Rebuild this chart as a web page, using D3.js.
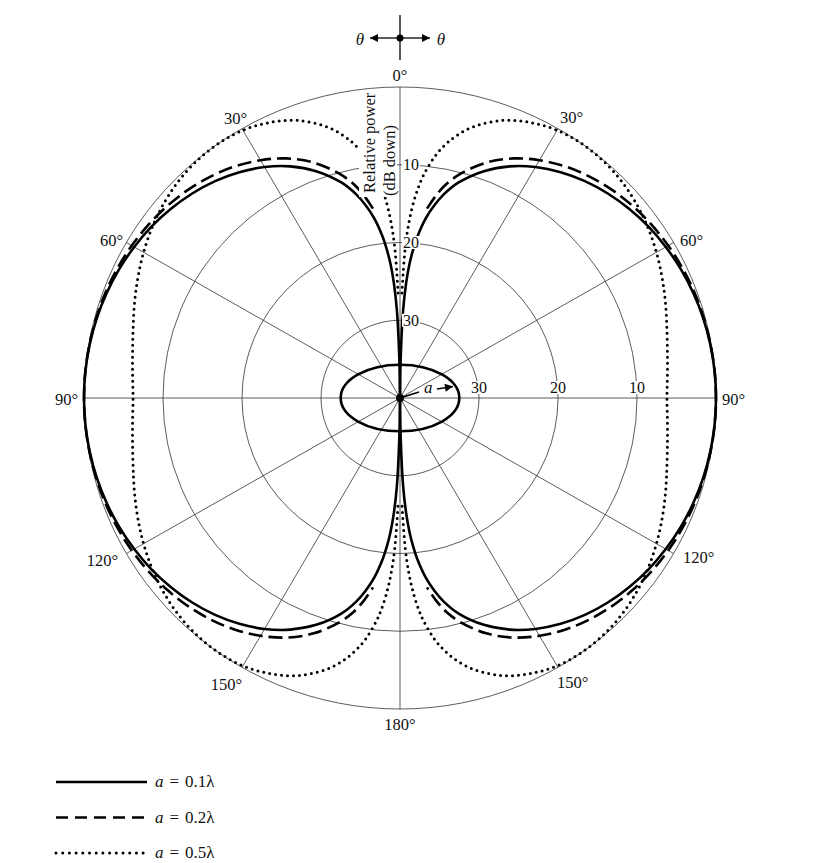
<!DOCTYPE html>
<html><head><meta charset="utf-8">
<script src="https://cdn.jsdelivr.net/npm/d3@7"></script>
<style>
html,body{margin:0;padding:0;background:#fff;}
svg text{font-family:"Liberation Serif","Times New Roman",serif;fill:#111;}
</style></head>
<body>
<svg id="chart" width="820" height="863"></svg>
<script>
// Angles (degrees from the loop axis) for one quadrant, mirrored to the others
const angles = [0,1,2,3,4,5,6,8,10,12,15,20,25,30,35,40,45,50,55,60,65,70,75,80,85,90];
// Relative power, dB down
const dbA01 = [40,34.7,28.7,25.2,22.7,20.8,19.2,16.7,14.8,13.2,11.3,8.95,7.13,5.7,4.55,3.59,2.8,2.15,1.59,1.15,0.78,0.49,0.27,0.12,0.03,0];
const dbA02 = [null,null,null,null,null,null,null,15.4,13.5,11.9,10.1,7.75,6.0,4.68,3.62,2.78,2.11,1.57,1.14,0.8,0.53,0.33,0.19,0.09,0.02,0];
const dbA05 = [null,26.5,20.5,17.0,14.55,12.65,11.1,8.7,6.9,5.5,3.85,2.0,0.9,0.23,0.01,0.1,0.44,1.0,1.71,2.52,3.39,4.24,5.03,5.63,6.02,6.21];
const ringLevels = [10,20,30];
const spokeAngles = [0,30,60,90,120,150,180,210,240,270,300,330];
const angleLabels = ["0°","30°","60°","90°","120°","150°","180°","150°","120°","90°","60°","30°"];
const legendLabels = ["0.1λ","0.2λ","0.5λ"];

const svg = d3.select("#chart");
const cx = 400, cy = 398, RY = 311, XS = 316/311;
const r = d3.scaleLinear().domain([40,0]).range([0,RY]);
const rad = d => d*Math.PI/180;
const pt = (a, db) => [cx + r(db)*Math.sin(rad(a))*XS, cy - r(db)*Math.cos(rad(a))];

const grid = svg.append("g").attr("fill","none").attr("stroke","#333").attr("stroke-width",0.8);
[0].concat(ringLevels).forEach(d => {
  grid.append("ellipse").attr("cx",cx).attr("cy",cy).attr("rx",r(d)*XS).attr("ry",r(d));
});
spokeAngles.forEach(a => {
  const p = pt(a,0);
  grid.append("line").attr("x1",cx).attr("y1",cy).attr("x2",p[0]).attr("y2",p[1]);
});

// pattern curves
function halfPoints(vals, side){
  const pts = [];
  angles.forEach((a,i)=>{ if(vals[i]!==null) pts.push([a, vals[i]]); });
  const rev = pts.slice().reverse().filter(p=>p[0]!==90).map(p=>[180-p[0], p[1]]);
  return pts.concat(rev).map(p => pt(side*p[0], p[1]));
}
const line = d3.line().curve(d3.curveCatmullRom.alpha(0.5));
const series = [
  {vals: dbA01, dash: null, w: 2.6, cap: "butt"},
  {vals: dbA02, dash: "14 6", w: 2.6, cap: "butt"},
  {vals: dbA05, dash: "0 6", w: 3.0, cap: "round"}
];
const curves = svg.append("g").attr("fill","none").attr("stroke","#000");
series.forEach(s => {
  [1,-1].forEach(side => {
    curves.append("path").attr("d", line(halfPoints(s.vals, side)))
      .attr("stroke-width", s.w).attr("stroke-dasharray", s.dash).attr("stroke-linecap", s.cap);
  });
});

// ring labels
const lab = svg.append("g").attr("font-size",16);
ringLevels.forEach(d => {
  const t1 = lab.append("text").attr("x",cx+3).attr("y",cy - r(d) + 5.5).text(d);
  const t2 = lab.append("text").attr("x",cx + r(d)*XS).attr("y",cy-5).attr("text-anchor","middle").text(d);
  [t1,t2].forEach(t => {
    const b = t.node().getBBox();
    lab.insert("rect", () => t.node()).attr("x",b.x-1).attr("y",b.y+2).attr("width",b.width+2).attr("height",b.height-4).attr("fill","#fff");
  });
});

// axis title (rotated)
svg.append("rect").attr("x",359).attr("y",91).attr("width",38).attr("height",106).attr("fill","#fff");
svg.append("text").attr("font-size",16.5).attr("transform","translate(375,193) rotate(-90)").text("Relative power");
svg.append("text").attr("font-size",16.5).attr("transform","translate(395,196) rotate(-90)").text("(dB down)");

// angle labels
const alay = [["middle",400,81],["start",560,123],["start",680,246],["start",722,405],["start",683,563],["start",557,688],
              ["middle",400,730],["end",242,690],["end",118,566],["end",78,405],["end",123,246],["end",247,124]];
angleLabels.forEach((t,i) => {
  svg.append("text").attr("font-size",16.5).attr("text-anchor",alay[i][0]).attr("x",alay[i][1]).attr("y",alay[i][2]).text(t);
});

// markers
const defs = svg.append("defs");
defs.append("marker").attr("id","arr").attr("viewBox","0 0 10 10").attr("refX",10).attr("refY",5)
  .attr("markerWidth",10).attr("markerHeight",8).attr("markerUnits","userSpaceOnUse").attr("orient","auto")
  .append("path").attr("d","M0,0 L10,5 L0,10 Z").attr("fill","#000");

// theta cross
const tc = svg.append("g").attr("stroke","#000").attr("stroke-width",1.3);
tc.append("line").attr("x1",400).attr("y1",15).attr("x2",400).attr("y2",60);
tc.append("line").attr("x1",400).attr("y1",38).attr("x2",370).attr("y2",38).attr("marker-end","url(#arr)");
tc.append("line").attr("x1",400).attr("y1",38).attr("x2",430).attr("y2",38).attr("marker-end","url(#arr)");
svg.append("circle").attr("cx",400).attr("cy",38).attr("r",3.5).attr("fill","#000");
svg.append("text").attr("font-size",17).attr("font-style","italic").attr("text-anchor","middle").attr("x",360).attr("y",45).text("θ");
svg.append("text").attr("font-size",17).attr("font-style","italic").attr("text-anchor","middle").attr("x",441).attr("y",45).text("θ");

// loop (ellipse) at center
svg.append("ellipse").attr("cx",cx).attr("cy",cy).attr("rx",59.3).attr("ry",33.3).attr("fill","none").attr("stroke","#000").attr("stroke-width",2.6);
svg.append("line").attr("x1",cx).attr("y1",cy).attr("x2",419).attr("y2",392).attr("stroke","#000").attr("stroke-width",1.8);
svg.append("text").attr("font-size",17).attr("font-style","italic").attr("x",424).attr("y",393).text("a");
svg.append("line").attr("x1",437).attr("y1",389).attr("x2",453).attr("y2",386.5).attr("stroke","#000").attr("stroke-width",1.3).attr("marker-end","url(#arr)");
svg.append("circle").attr("cx",cx).attr("cy",cy).attr("r",4).attr("fill","#000");

// legend
const lg = svg.append("g");
series.forEach((s,i) => {
  const y = 782 + i*35.5;
  lg.append("line").attr("x1",56).attr("x2",147).attr("y1",y).attr("y2",y).attr("stroke","#000")
    .attr("stroke-width",s.w).attr("stroke-dasharray", i===1 ? "12 7" : (i===2 ? "0 6.7" : null)).attr("stroke-linecap", s.cap);
  const t = lg.append("text").attr("font-size",17).attr("x",155).attr("y",y+5);
  t.append("tspan").attr("font-style","italic").text("a");
  t.append("tspan").attr("dx",6).text("=");
  t.append("tspan").attr("dx",6).text(legendLabels[i]);
});
</script>
</body></html>
